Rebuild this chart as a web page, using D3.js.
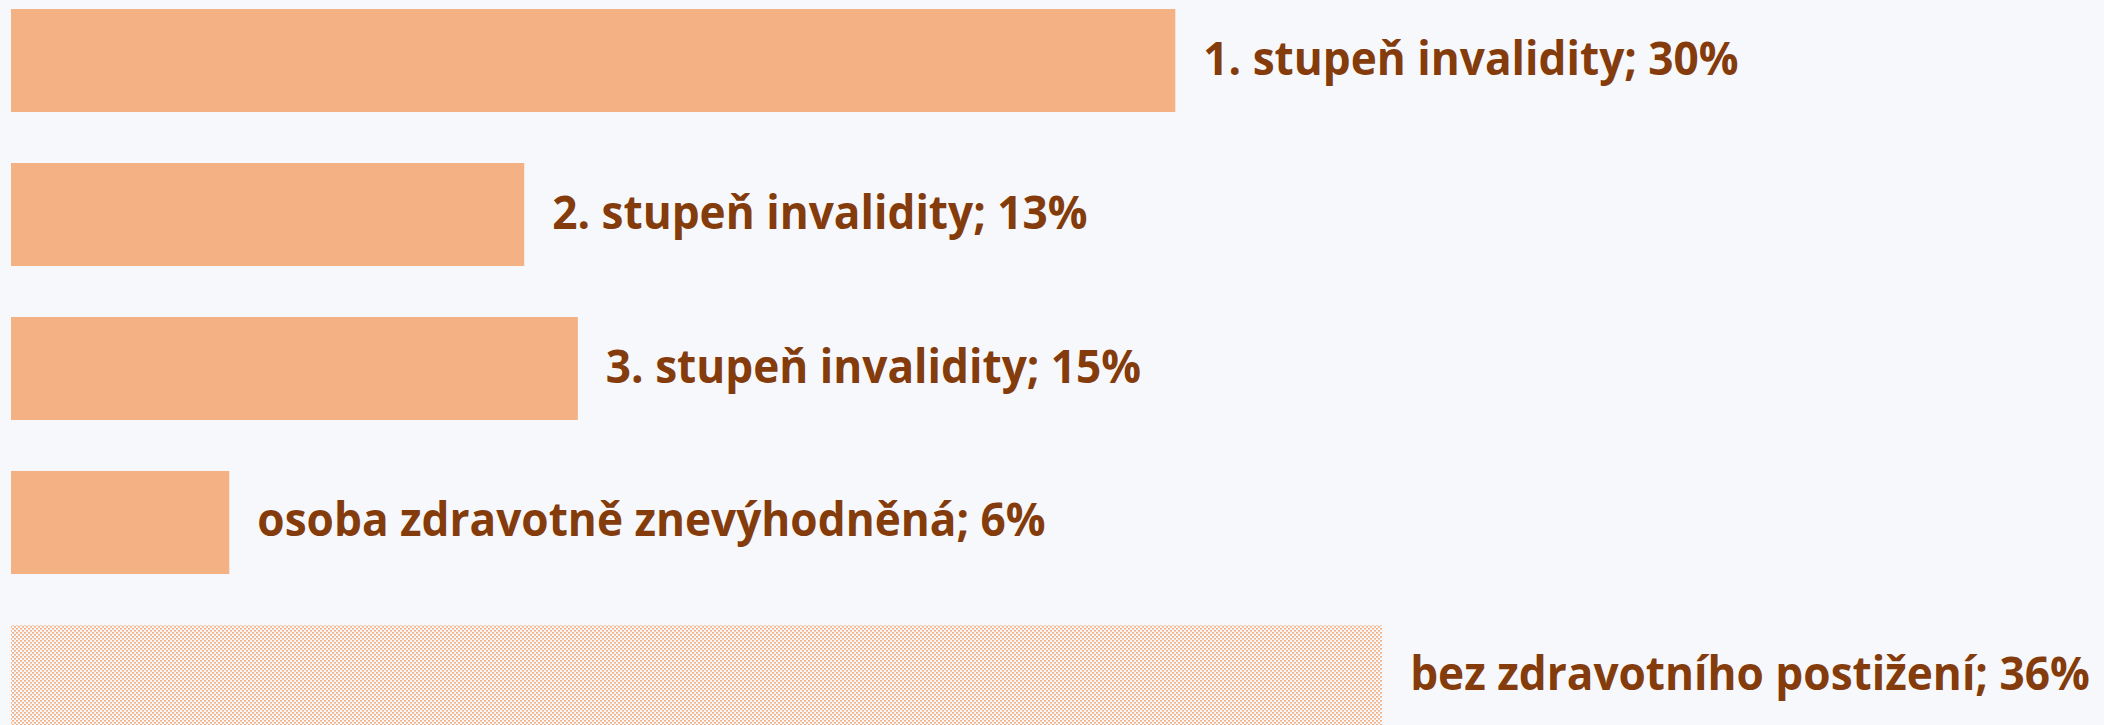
<!DOCTYPE html>
<html>
<head>
<meta charset="utf-8">
<script src="https://cdn.jsdelivr.net/npm/d3@7"></script>
<style>
  html, body { margin: 0; padding: 0; background: #f7f8fc; overflow: hidden; }
  svg { display: block; }
</style>
</head>
<body>
<svg id="chart" width="2104" height="725"></svg>
<script>
const categories = [
  "1. stupeň invalidity",
  "2. stupeň invalidity",
  "3. stupeň invalidity",
  "osoba zdravotně znevýhodněná",
  "bez zdravotního postižení"
];
const values = [30.4, 13.4, 14.8, 5.7, 35.8];
const valueLabels = ["30%", "13%", "15%", "6%", "36%"];
const patterned = [false, false, false, false, true];

const width = 2104, height = 725;
const margin = { top: 9, left: 11 };

const svg = d3.select("#chart");

// dotted fill for the last bar
const defs = svg.append("defs");
const pat = defs.append("pattern")
  .attr("id", "dots")
  .attr("patternUnits", "userSpaceOnUse")
  .attr("width", 4)
  .attr("height", 4);
pat.append("rect").attr("x", 0).attr("y", 0).attr("width", 2).attr("height", 1.6).attr("fill", "#f4b183");
pat.append("rect").attr("x", 2).attr("y", 2).attr("width", 2).attr("height", 1.6).attr("fill", "#f4b183");

const x = d3.scaleLinear()
  .domain([0, 40])
  .range([margin.left, margin.left + 40 * 38.3]);

const y = d3.scaleBand()
  .domain(categories)
  .range([margin.top, margin.top + 719])
  .paddingInner(0.331)
  .paddingOuter(0);

const data = categories.map((c, i) => ({
  category: c, value: values[i], label: valueLabels[i], patterned: patterned[i]
}));

svg.selectAll("rect.bar")
  .data(data)
  .join("rect")
  .attr("class", "bar")
  .attr("x", x(0))
  .attr("y", d => y(d.category))
  .attr("width", d => x(d.value) - x(0))
  .attr("height", y.bandwidth())
  .attr("fill", d => d.patterned ? "url(#dots)" : "#f4b183");

// labels: Open Sans squeezed a little to match the narrower original font
const condense = 0.96;
const labels = svg.selectAll("text.lbl")
  .data(data)
  .join("text")
  .attr("class", "lbl")
  .attr("x", d => x(d.value) + 28)
  .attr("y", d => y(d.category) + y.bandwidth() / 2 + 14)
  .style("font-family", "'Open Sans', 'Noto Sans', sans-serif")
  .style("font-weight", 700)
  .style("font-size", "46px")
  .style("fill", "#843c0c")
  .text(d => `${d.category}; ${d.label}`);

labels.each(function () {
  const len = this.getComputedTextLength();
  d3.select(this)
    .attr("textLength", len * condense)
    .attr("lengthAdjust", "spacingAndGlyphs");
});
</script>
</body>
</html>
